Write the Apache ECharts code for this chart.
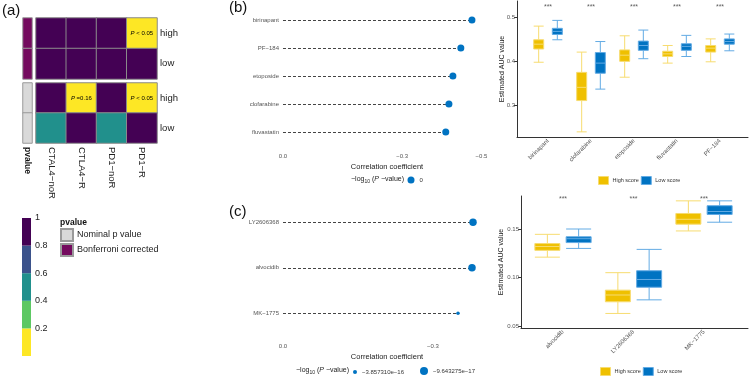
<!DOCTYPE html>
<html>
<head>
<meta charset="utf-8">
<script src="https://cdn.jsdelivr.net/npm/echarts@6/dist/echarts.min.js"></script>
<style>
    html, body { margin: 0; padding: 0; background: #fff; }
    #main { width: 750px; height: 378px; }
</style>
</head>
<body>
<div id="main"></div>
<script>
// ---- (a) heatmap data
var hmCols = ['CTAL4−noR', 'CTLA4−R', 'PD1−noR', 'PD1−R'];
var hmRows = ['high', 'low'];
var bonfHigh = [1, 1, 1, 0.04];
var bonfLow = [1, 1, 1, 1];
var nomHigh = [1, 0.16, 1, 0.04];
var nomLow = [0.5, 1, 0.5, 1];
var bonfLabels = ['', '', '', 'P < 0.05'];
var nomLabels = ['', 'P =0.16', '', 'P < 0.05'];
var pvBreaks = [0, 0.2, 0.4, 0.6, 0.8, 1];
var pvColors = ['#FDE725', '#5DC863', '#21908C', '#3B528B', '#440154'];
var pvTicks = [0.2, 0.4, 0.6, 0.8, 1];
var annotNames = ['Nominal p value', 'Bonferroni corrected'];
var annotColors = ['#D9D9D9', '#740A5E'];

// ---- (b) lollipop + boxplot
var bDrugs = ['birinapant', 'PF−184', 'etoposide', 'clofarabine', 'fluvastatin'];
var bCor = [-0.476, -0.448, -0.428, -0.418, -0.41];
var bLogP = ['0'];
var bCorTicks = [0, -0.3, -0.5];
var bBoxDrugs = ['birinapant', 'clofarabine', 'etoposide', 'fluvastatin', 'PF−184'];
// [min, Q1, median, Q3, max]
var bHigh = [
    [0.397, 0.427, 0.438, 0.448, 0.479],
    [0.239, 0.310, 0.340, 0.374, 0.420],
    [0.363, 0.399, 0.413, 0.425, 0.457],
    [0.395, 0.410, 0.416, 0.422, 0.435],
    [0.398, 0.420, 0.429, 0.435, 0.450]
];
var bLow = [
    [0.448, 0.460, 0.467, 0.474, 0.492],
    [0.336, 0.372, 0.395, 0.419, 0.444],
    [0.405, 0.424, 0.435, 0.445, 0.470],
    [0.410, 0.424, 0.433, 0.439, 0.458],
    [0.423, 0.438, 0.444, 0.450, 0.461]
];
var bSig = ['***', '***', '***', '***', '***'];
var bAucTicks = [0.3, 0.4, 0.5];

// ---- (c) lollipop + boxplot
var cDrugs = ['LY2606368', 'alvocidib', 'MK−1775'];
var cCor = [-0.38, -0.378, -0.35];
var cLogP = ['−9.643275e−17', '−9.643275e−17', '−3.857310e−16'];
var cLogPLevels = ['−3.857310e−16', '−9.643275e−17'];
var cCorTicks = [0, -0.3];
var cBoxDrugs = ['alvocidib', 'LY2606368', 'MK−1775'];
var cHigh = [
    [0.121, 0.128, 0.132, 0.135, 0.1445],
    [0.063, 0.075, 0.082, 0.087, 0.105],
    [0.148, 0.155, 0.160, 0.166, 0.179]
];
var cLow = [
    [0.130, 0.136, 0.140, 0.142, 0.150],
    [0.077, 0.090, 0.098, 0.107, 0.129],
    [0.157, 0.165, 0.168, 0.174, 0.179]
];
var cSig = ['***', '***', '***'];
var cAucTicks = [0.05, 0.10, 0.15];

var FONT = 'Liberation Sans, Arial, sans-serif';
var BLUE = '#0073C2';
var YELLOW = '#EFC000';
var GRID_TXT = '#555';

var myChart = echarts.init(document.getElementById('main'));

function richP(s) {
    if (!s) return '';
    return '{i|P}{n|' + s.slice(1) + '}';
}

function heatData(highArr, lowArr) {
    var out = [];
    hmCols.forEach(function (c, i) {
        out.push([i, 0, highArr[i]]);
        out.push([i, 1, lowArr[i]]);
    });
    return out;
}

// dashed stem from 0 to the correlation value
function stemItem(params, api) {
    var a = api.coord([0, api.value(1)]);
    var b = api.coord([api.value(0), api.value(1)]);
    var y = Math.round(a[1]) + 0.5;
    return {
        type: 'line',
        shape: { x1: a[0], y1: y, x2: b[0], y2: y },
        style: { stroke: '#444', lineWidth: 1, lineDash: [3, 2] }
    };
}

function corLabel(v) {
    if (v === 0) return '0.0';
    return '−' + Math.abs(v).toFixed(1);
}

var heatLabel = {
    show: true,
    fontSize: 6,
    color: '#000',
    rich: {
        i: { fontStyle: 'italic', fontSize: 6, fontFamily: FONT },
        n: { fontSize: 6, fontFamily: FONT }
    }
};

var grids = [
    { left: 23, top: 18, width: 9, height: 61 },        // 0 annot top
    { left: 36, top: 18, width: 121, height: 61 },      // 1 heat top
    { left: 23, top: 83, width: 9, height: 60 },        // 2 annot bottom
    { left: 36, top: 83, width: 121, height: 60 },      // 3 heat bottom
    { left: 22, top: 218, width: 9, height: 138 },      // 4 colorbar
    { left: 281, top: 6, width: 212, height: 140 },     // 5 lollipop b
    { left: 517, top: 1, width: 231, height: 136 },     // 6 box b frame
    { left: 526.5, top: 1, width: 215, height: 136 },   // 7 box b
    { left: 281, top: 199.5, width: 212, height: 136.5 }, // 8 lollipop c
    { left: 521, top: 196, width: 227, height: 132 },   // 9 box c frame
    { left: 527.75, top: 196, width: 211.5, height: 132 } // 10 box c
];

var xAxes = [
    { gridIndex: 0, type: 'category', data: [''], show: false },
    { gridIndex: 1, type: 'category', data: hmCols, show: false },
    {
        gridIndex: 2, type: 'category', data: ['pvalue'],
        axisLine: { show: false }, axisTick: { show: false },
        axisLabel: { rotate: -90, fontSize: 8.5, fontWeight: 'bold', color: '#111', margin: 4 }
    },
    {
        gridIndex: 3, type: 'category', data: hmCols,
        axisLine: { show: false }, axisTick: { show: false },
        axisLabel: { rotate: -90, fontSize: 9.5, color: '#222', margin: 4 }
    },
    { gridIndex: 4, type: 'category', data: [''], show: false },
    {
        gridIndex: 5, type: 'value', inverse: true, min: -0.529, max: 0.005, offset: 4,
        axisLine: { lineStyle: { color: '#333', width: 1 } },
        axisTick: { customValues: bCorTicks, length: 3, lineStyle: { color: '#333' } },
        axisLabel: { customValues: bCorTicks, formatter: corLabel, fontSize: 6, color: GRID_TXT, margin: 3 },
        splitLine: { show: false },
        name: 'Correlation coefficient', nameLocation: 'middle', nameGap: 13,
        nameTextStyle: { fontSize: 7.5, color: '#222' }
    },
    {
        gridIndex: 6, type: 'value', min: 0, max: 1,
        axisLine: { lineStyle: { color: '#333', width: 1 } },
        axisTick: { show: false }, axisLabel: { show: false }, splitLine: { show: false }
    },
    {
        gridIndex: 7, type: 'category', data: bBoxDrugs,
        axisLine: { show: false },
        axisTick: { alignWithLabel: true, length: 3, lineStyle: { color: '#333' } },
        axisLabel: { rotate: 45, fontSize: 6, color: GRID_TXT, margin: 3 }
    },
    {
        gridIndex: 8, type: 'value', inverse: true, min: -0.42, max: 0.004, offset: 4,
        axisLine: { lineStyle: { color: '#333', width: 1 } },
        axisTick: { customValues: cCorTicks, length: 3, lineStyle: { color: '#333' } },
        axisLabel: { customValues: cCorTicks, formatter: corLabel, fontSize: 6, color: GRID_TXT, margin: 3 },
        splitLine: { show: false },
        name: 'Correlation coefficient', nameLocation: 'middle', nameGap: 13,
        nameTextStyle: { fontSize: 7.5, color: '#222' }
    },
    {
        gridIndex: 9, type: 'value', min: 0, max: 1,
        axisLine: { lineStyle: { color: '#333', width: 1 } },
        axisTick: { show: false }, axisLabel: { show: false }, splitLine: { show: false }
    },
    {
        gridIndex: 10, type: 'category', data: cBoxDrugs,
        axisLine: { show: false },
        axisTick: { alignWithLabel: true, length: 3, lineStyle: { color: '#333' } },
        axisLabel: { rotate: 45, fontSize: 6, color: GRID_TXT, margin: 3 }
    }
];

var yAxes = [
    { gridIndex: 0, type: 'category', data: hmRows, inverse: true, show: false },
    {
        gridIndex: 1, type: 'category', data: hmRows, inverse: true, position: 'right',
        axisLine: { show: false }, axisTick: { show: false },
        axisLabel: { fontSize: 9.5, color: '#222', margin: 3 }
    },
    { gridIndex: 2, type: 'category', data: hmRows, inverse: true, show: false },
    {
        gridIndex: 3, type: 'category', data: hmRows, inverse: true, position: 'right',
        axisLine: { show: false }, axisTick: { show: false },
        axisLabel: { fontSize: 9.5, color: '#222', margin: 3 }
    },
    {
        gridIndex: 4, type: 'value', min: 0, max: 1, position: 'right',
        axisLine: { show: false }, axisTick: { show: false }, splitLine: { show: false },
        axisLabel: {
            customValues: pvTicks, fontSize: 9, color: '#222', margin: 4,
            formatter: function (v) { return v === 1 ? '1' : v.toFixed(1); }
        }
    },
    {
        gridIndex: 5, type: 'category', data: bDrugs, inverse: true,
        axisLine: { show: false },
        axisTick: { alignWithLabel: true, length: 3, lineStyle: { color: '#555' } },
        axisLabel: { fontSize: 6, color: GRID_TXT, margin: 2 }
    },
    {
        gridIndex: 6, type: 'value', min: 0, max: 1,
        axisLine: { show: true, lineStyle: { color: '#333', width: 1 } },
        axisTick: { show: false }, axisLabel: { show: false }, splitLine: { show: false }
    },
    {
        gridIndex: 7, type: 'value', min: 0.2273, max: 0.536, offset: 9.5,
        axisLine: { show: false },
        axisTick: { show: true, customValues: bAucTicks, length: 3, lineStyle: { color: '#333' } },
        axisLabel: { customValues: bAucTicks, formatter: function (v) { return v.toFixed(1); }, fontSize: 6, color: GRID_TXT, margin: 2 },
        splitLine: { show: false },
        name: 'Estimated AUC value', nameLocation: 'middle', nameGap: 11, nameMoveOverlap: false,
        nameTextStyle: { fontSize: 7, color: '#222' }
    },
    {
        gridIndex: 8, type: 'category', data: cDrugs, inverse: true,
        axisLine: { show: false },
        axisTick: { alignWithLabel: true, length: 3, lineStyle: { color: '#555' } },
        axisLabel: { fontSize: 6, color: GRID_TXT, margin: 2 }
    },
    {
        gridIndex: 9, type: 'value', min: 0, max: 1,
        axisLine: { show: true, lineStyle: { color: '#333', width: 1 } },
        axisTick: { show: false }, axisLabel: { show: false }, splitLine: { show: false }
    },
    {
        gridIndex: 10, type: 'value', min: 0.048, max: 0.184, offset: 6.75,
        axisLine: { show: false },
        axisTick: { show: true, customValues: cAucTicks, length: 3, lineStyle: { color: '#333' } },
        axisLabel: { customValues: cAucTicks, formatter: function (v) { return v.toFixed(2); }, fontSize: 6, color: GRID_TXT, margin: 2 },
        splitLine: { show: false },
        name: 'Estimated AUC value', nameLocation: 'middle', nameGap: 16, nameMoveOverlap: false,
        nameTextStyle: { fontSize: 7, color: '#222' }
    }
];

var series = [];

// heatmaps (series 0, 1)
series.push({
    type: 'heatmap', xAxisIndex: 1, yAxisIndex: 1,
    data: heatData(bonfHigh, bonfLow),
    itemStyle: { borderColor: '#8a8a8a', borderWidth: 1 },
    label: Object.assign({}, heatLabel, {
        formatter: function (p) { return p.value[1] === 0 ? richP(bonfLabels[p.value[0]]) : ''; }
    })
});
series.push({
    type: 'heatmap', xAxisIndex: 3, yAxisIndex: 3,
    data: heatData(nomHigh, nomLow),
    itemStyle: { borderColor: '#8a8a8a', borderWidth: 1 },
    label: Object.assign({}, heatLabel, {
        formatter: function (p) { return p.value[1] === 0 ? richP(nomLabels[p.value[0]]) : ''; }
    })
});

// annotation column
series.push({
    type: 'heatmap', name: annotNames[1], xAxisIndex: 0, yAxisIndex: 0,
    data: [[0, 0, 1], [0, 1, 1]],
    itemStyle: { color: annotColors[1], borderColor: '#9a9a9a', borderWidth: 1 }
});
series.push({
    type: 'heatmap', name: annotNames[0], xAxisIndex: 2, yAxisIndex: 2,
    data: [[0, 0, 1], [0, 1, 1]],
    itemStyle: { color: annotColors[0], borderColor: '#9a9a9a', borderWidth: 1 }
});

// colour bar
pvColors.forEach(function (c, i) {
    series.push({
        type: 'bar', xAxisIndex: 4, yAxisIndex: 4, stack: 'cb', silent: true,
        barWidth: '100%', data: [pvBreaks[i + 1] - pvBreaks[i]],
        itemStyle: { color: c }
    });
});

// (b) lollipop
series.push({
    type: 'custom', xAxisIndex: 5, yAxisIndex: 5, silent: true,
    renderItem: stemItem,
    data: bCor.map(function (v, i) { return [v, bDrugs[i]]; })
});
series.push({
    type: 'scatter', name: bLogP[0], xAxisIndex: 5, yAxisIndex: 5,
    symbolSize: 7, itemStyle: { color: BLUE, opacity: 1 },
    data: bCor.map(function (v, i) { return [v, bDrugs[i]]; })
});

// (c) lollipop
series.push({
    type: 'custom', xAxisIndex: 8, yAxisIndex: 8, silent: true,
    renderItem: stemItem,
    data: cCor.map(function (v, i) { return [v, cDrugs[i]]; })
});
var cSizes = [3.5, 7.5];
cLogPLevels.forEach(function (lvl, k) {
    series.push({
        type: 'scatter', name: lvl, xAxisIndex: 8, yAxisIndex: 8,
        symbolSize: cSizes[k], itemStyle: { color: BLUE, opacity: 1 },
        data: cCor.map(function (v, i) { return cLogP[i] === lvl ? [v, cDrugs[i]] : null; })
            .filter(function (d) { return d; })
    });
});

// boxplots
function boxSeries(name, data, xi, fill, border, bw) {
    return {
        type: 'boxplot', name: name, xAxisIndex: xi, yAxisIndex: xi,
        data: data, boxWidth: [bw, bw],
        itemStyle: { color: fill, borderColor: border, borderWidth: 1 }
    };
}
series.push(boxSeries('High score', bHigh, 7, YELLOW, '#F7DC70', 10));
series.push(boxSeries('Low score', bLow, 7, BLUE, '#63ABE4', 10));
series.push(boxSeries('High score', cHigh, 10, YELLOW, '#F7DC70', 25));
series.push(boxSeries('Low score', cLow, 10, BLUE, '#63ABE4', 25));

function sigSeries(cats, sig, xi, yv) {
    return {
        type: 'scatter', xAxisIndex: xi, yAxisIndex: xi, silent: true,
        symbolSize: 1, itemStyle: { color: 'transparent' },
        data: cats.map(function (c) { return [c, yv]; }),
        label: {
            show: true, position: 'inside', fontSize: 7, color: '#333',
            formatter: function (p) { return sig[p.dataIndex]; }
        }
    };
}
series.push(sigSeries(bBoxDrugs, bSig, 7, 0.522));
series.push(sigSeries(cBoxDrugs, cSig, 10, 0.1805));

var smallTxt = { fontSize: 6, color: '#333' };
var scoreTxt = { fontSize: 5.5, color: '#333', padding: [0, 0, 0, -1] };
var scoreLegend = [
    { name: 'High score', itemStyle: { color: YELLOW, borderColor: '#F7DC70', borderWidth: 1 } },
    { name: 'Low score', itemStyle: { color: BLUE, borderColor: '#63ABE4', borderWidth: 1 } }
];
var logTitle = {
    text: '{n|−log}{s|10}{n| (}{i|P}{n| −value)}', fontFamily: FONT,
    rich: {
        n: { fontSize: 7, fill: '#222', lineHeight: 10 },
        s: { fontSize: 5, fill: '#222', verticalAlign: 'bottom', lineHeight: 8 },
        i: { fontSize: 7, fill: '#222', fontStyle: 'italic', lineHeight: 10 }
    }
};

var option = {
    animation: false,
    textStyle: { fontFamily: FONT },
    grid: grids,
    xAxis: xAxes,
    yAxis: yAxes,
    visualMap: {
        type: 'piecewise', show: false, seriesIndex: [0, 1], dimension: 2,
        pieces: pvColors.map(function (c, i) {
            return { gte: pvBreaks[i], lt: i === pvColors.length - 1 ? 1.0001 : pvBreaks[i + 1], color: c };
        })
    },
    legend: [
        {
            data: annotNames, orient: 'vertical', left: 60, top: 228, padding: 0,
            icon: 'rect', itemWidth: 12, itemHeight: 12, itemGap: 1,
            textStyle: { fontSize: 9, color: '#222', padding: [0, 0, 0, -1] },
            selectedMode: false
        },
        {
            data: bLogP, left: 407.5, top: 176.5, padding: 0, icon: 'circle', itemWidth: 7, itemHeight: 7,
            textStyle: smallTxt, selectedMode: false
        },
        {
            data: [cLogPLevels[0]], left: 353, top: 369, padding: 0, icon: 'circle', itemWidth: 4, itemHeight: 4,
            textStyle: smallTxt, selectedMode: false
        },
        {
            data: [cLogPLevels[1]], left: 420, top: 367, padding: 0, icon: 'circle', itemWidth: 8, itemHeight: 8,
            textStyle: smallTxt, selectedMode: false
        },
        {
            data: scoreLegend, left: 598, top: 176, padding: 0, icon: 'rect',
            itemWidth: 10, itemHeight: 8, itemGap: 2, textStyle: scoreTxt, selectedMode: false
        },
        {
            data: scoreLegend, left: 600, top: 367, padding: 0, icon: 'rect',
            itemWidth: 10, itemHeight: 8, itemGap: 2, textStyle: scoreTxt, selectedMode: false
        }
    ],
    graphic: [
        { type: 'text', left: 2, top: 3, style: { text: '(a)', fontSize: 15, fill: '#111', fontFamily: FONT } },
        { type: 'text', left: 229, top: 0, style: { text: '(b)', fontSize: 15, fill: '#111', fontFamily: FONT } },
        { type: 'text', left: 229, top: 204, style: { text: '(c)', fontSize: 15, fill: '#111', fontFamily: FONT } },
        { type: 'text', left: 60, top: 218, style: { text: 'pvalue', fontSize: 8.5, fontWeight: 'bold', fill: '#111', fontFamily: FONT } },
        { type: 'text', left: 351, top: 175.5, style: logTitle },
        { type: 'text', left: 296, top: 366.5, style: logTitle }
    ],
    series: series
};

myChart.setOption(option);
</script>
</body>
</html>
